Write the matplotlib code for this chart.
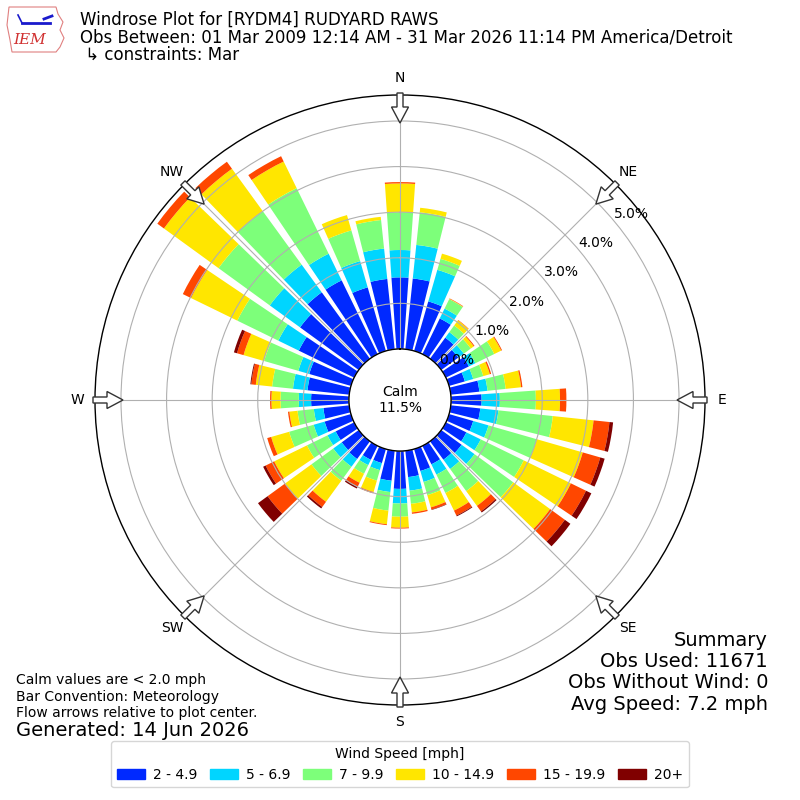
import numpy as np
import matplotlib
matplotlib.use("Agg")
import matplotlib.pyplot as plt
from matplotlib.patches import Patch, FancyArrow, Polygon

# direction bins (deg, meteorological) and percent of obs per speed bin
directions = np.arange(0, 360, 10)
speed_labels = ["2 - 4.9", "5 - 6.9", "7 - 9.9", "10 - 14.9", "15 - 19.9", "20+"]

pct_2_5 = [1.57, 1.56, 1.13, 0.87, 0.57, 0.46, 0.56, 0.36, 0.63, 0.67,
           0.65, 0.55, 0.50, 0.55, 0.50, 0.45, 0.50, 0.58, 0.83, 0.66,
           0.32, 0.34, 0.48, 0.46, 0.45, 0.60, 0.57, 0.83, 0.92, 0.95,
           1.35, 1.59, 1.80, 1.80, 1.45, 1.55]
pct_5_7 = [0.60, 0.74, 0.72, 0.24, 0.15, 0.15, 0.16, 0.19, 0.18, 0.40,
           0.40, 0.35, 0.35, 0.35, 0.25, 0.25, 0.25, 0.30, 0.32, 0.25,
           0.16, 0.13, 0.21, 0.23, 0.20, 0.25, 0.21, 0.27, 0.32, 0.25,
           0.50, 0.82, 0.75, 0.65, 0.60, 0.67]
pct_7_10 = [0.83, 0.72, 0.25, 0.23, 0.18, 0.19, 0.46, 0.23, 0.40, 0.79,
            1.20, 1.10, 1.05, 1.05, 0.60, 0.45, 0.30, 0.29, 0.29, 0.41,
            0.24, 0.21, 0.38, 0.59, 0.50, 0.56, 0.36, 0.40, 0.46, 0.78,
            1.00, 1.39, 1.45, 1.60, 0.70, 0.63]
pct_10_15 = [0.63, 0.10, 0.12, 0.01, 0.14, 0.08, 0.17, 0.15, 0.34, 0.53,
             0.90, 1.05, 1.15, 1.00, 0.40, 0.43, 0.28, 0.19, 0.24, 0.30,
             0.26, 0.22, 0.57, 0.72, 0.80, 0.41, 0.18, 0.20, 0.36, 0.47,
             1.13, 1.48, 1.15, 0.65, 0.35, 0.07]
pct_15_20 = [0.03, 0.00, 0.00, 0.01, 0.01, 0.02, 0.02, 0.03, 0.03, 0.14,
             0.35, 0.40, 0.37, 0.40, 0.15, 0.12, 0.05, 0.03, 0.02, 0.02,
             0.03, 0.10, 0.14, 0.47, 0.21, 0.09, 0.03, 0.03, 0.10, 0.15,
             0.20, 0.18, 0.19, 0.13, 0.00, 0.00]
pct_20_up = [0.00, 0.00, 0.00, 0.00, 0.00, 0.00, 0.00, 0.00, 0.00, 0.00,
             0.08, 0.10, 0.13, 0.15, 0.03, 0.02, 0.01, 0.00, 0.00, 0.00,
             0.00, 0.04, 0.04, 0.26, 0.06, 0.00, 0.00, 0.00, 0.02, 0.07,
             0.00, 0.00, 0.00, 0.00, 0.00, 0.00]
calm_pct = 11.5

compass = ["N", "NE", "E", "SE", "S", "SW", "W", "NW"]
rticks = [0, 1, 2, 3, 4, 5]

series = [pct_2_5, pct_5_7, pct_7_10, pct_10_15, pct_15_20, pct_20_up]
colors = plt.cm.jet(np.arange(1, 7) / 6.0)

fig = plt.figure(figsize=(8, 8), dpi=100)
ax = fig.add_axes([95 / 800, 95 / 800, 610 / 800, 610 / 800], projection="polar")
ax.set_theta_zero_location("N")
ax.set_theta_direction(-1)

theta = np.deg2rad(directions)
base = np.zeros(len(directions))
for vals, c in zip(series, colors):
    vals = np.array(vals)
    ax.bar(theta, vals, width=np.deg2rad(8), bottom=base, color=c,
           linewidth=0, align="center")
    base = base + vals

ax.set_rorigin(-1.12)
ax.set_ylim(0, 5.57)
ax.set_yticks(rticks)
ax.set_yticklabels(["%.1f%%" % v for v in rticks], fontsize=10)
ax.set_rlabel_position(50)
ax.set_thetagrids(range(0, 360, 45), labels=compass, fontsize=10)
ax.tick_params(axis="x", pad=2)
ax.grid(True, color="#b0b0b0", linewidth=0.8)
for sp in ax.spines.values():
    sp.set_color("black")
    sp.set_linewidth(1.0)

ax.text(0.5, 0.5, "Calm\n%.1f%%" % calm_pct, transform=ax.transAxes,
        ha="center", va="center", fontsize=10)

# overlay in pixel coords for arrows / logo
ov = fig.add_axes([0, 0, 1, 1], zorder=5)
ov.set_xlim(0, 800)
ov.set_ylim(0, 800)
ov.axis("off")
for ang in range(0, 360, 45):
    a = np.deg2rad(ang)
    ux, uy = np.sin(a), np.cos(a)
    r0, r1 = 307, 277
    ov.add_patch(FancyArrow(400 + r0 * ux, 400 + r0 * uy,
                            (r1 - r0) * ux, (r1 - r0) * uy,
                            width=6, head_width=17, head_length=16,
                            length_includes_head=True, fc="white",
                            ec="#333333", lw=1))

# rough IEM logo
iowa = [(9, 793), (56, 793), (58, 786), (63, 778), (60, 770), (64, 762),
        (60, 753), (56, 748), (12, 748), (10, 760), (7, 775), (9, 793)]
ov.add_patch(Polygon(iowa, closed=True, fill=False, ec="#e08080", lw=0.8))
ov.plot([22, 50], [777, 777], color="#1a1acc", lw=2)
ov.plot([22, 18], [777, 785], color="#1a1acc", lw=1.2)
ov.plot([44, 52], [781, 784], color="#1a1acc", lw=2)
ov.text(30, 760, "IEM", color="#d03030", fontsize=11, family="serif",
        style="italic", ha="center", va="center")

fig.text(80 / 800, 1 - 20 / 800, "Windrose Plot for [RYDM4] RUDYARD RAWS",
         fontsize=12, va="center")
fig.text(80 / 800, 1 - 38 / 800,
         "Obs Between: 01 Mar 2009 12:14 AM - 31 Mar 2026 11:14 PM America/Detroit",
         fontsize=12, va="center")
fig.text(80 / 800, 1 - 55 / 800, " \u21b3 constraints: Mar", fontsize=12,
         va="center")

fig.text(16 / 800, 1 - 680 / 800, "Calm values are < 2.0 mph", fontsize=10,
         va="center")
fig.text(16 / 800, 1 - 697 / 800, "Bar Convention: Meteorology", fontsize=10,
         va="center")
fig.text(16 / 800, 1 - 713 / 800, "Flow arrows relative to plot center.",
         fontsize=10, va="center")
fig.text(16 / 800, 1 - 730 / 800, "Generated: 14 Jun 2026", fontsize=14,
         va="center")

summary = ["Summary", "Obs Used: 11671", "Obs Without Wind: 0",
           "Avg Speed: 7.2 mph"]
for i, line in enumerate(summary):
    fig.text(768 / 800, 1 - (640 + 21.5 * i) / 800, line, fontsize=14,
             ha="right", va="center")

handles = [Patch(color=c) for c in colors]
fig.legend(handles, speed_labels, loc="lower center", ncol=6,
           bbox_to_anchor=(0.5, 0.007), title="Wind Speed [mph]",
           fontsize=10, title_fontsize=10, columnspacing=0.9,
           handletextpad=0.6)

fig.savefig("out.png", dpi=100)
